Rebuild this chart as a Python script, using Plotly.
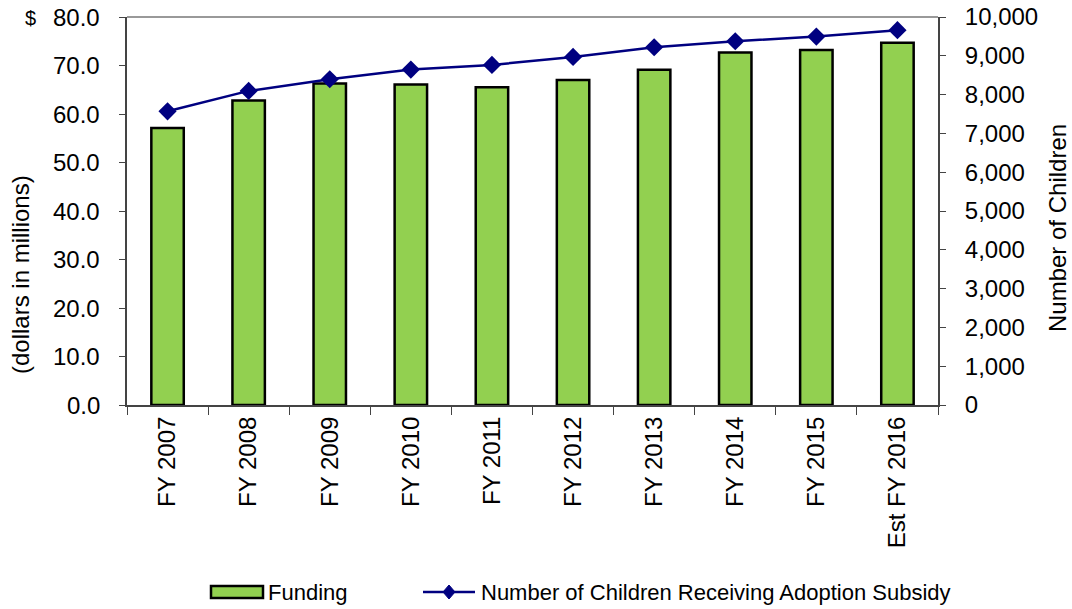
import plotly.graph_objects as go

categories = ["FY 2007", "FY 2008", "FY 2009", "FY 2010", "FY 2011",
              "FY 2012", "FY 2013", "FY 2014", "FY 2015", "Est FY 2016"]
funding = [57.1, 62.8, 66.3, 66.1, 65.5, 67.0, 69.1, 72.7, 73.2, 74.7]
children = [7570, 8095, 8395, 8645, 8765, 8970, 9220, 9375, 9495, 9660]
left_ticks = [0, 10, 20, 30, 40, 50, 60, 70, 80]
right_ticks = [0, 1000, 2000, 3000, 4000, 5000, 6000, 7000, 8000, 9000, 10000]

FONT = "Liberation Sans, Arial, sans-serif"
FS = 24
BAR_COLOR = "#92D050"
LINE_COLOR = "#000080"

L, R, T, B = 127, 134, 17, 204
W, H = 1072, 609
PW, PH = W - L - R, H - T - B


def px(x):
    return (x - L) / PW


def py(y):
    return (H - B - y) / PH


fig = go.Figure()
fig.add_trace(go.Bar(
    x=categories, y=funding, name="Funding",
    marker=dict(color=BAR_COLOR, line=dict(color="black", width=2.5)),
    yaxis="y", showlegend=False,
))
fig.add_trace(go.Scatter(
    x=categories, y=children, name="Number of Children Receiving Adoption Subsidy",
    mode="lines+markers",
    line=dict(color=LINE_COLOR, width=2.5),
    marker=dict(symbol="diamond", size=14, color=LINE_COLOR),
    yaxis="y2", showlegend=False,
))

# custom legend (swatches and labels)
ly = 592
dcx, dhw, dhh = 449, 6, 7
shapes = [
    dict(type="line", xref="paper", yref="paper", x0=0, x1=1, y0=1, y1=1,
         line=dict(color="#999", width=2)),
    dict(type="rect", xref="paper", yref="paper", x0=px(211), x1=px(263),
         y0=py(598), y1=py(586), fillcolor=BAR_COLOR, line=dict(color="black", width=2.5)),
    dict(type="line", xref="paper", yref="paper", x0=px(423), x1=px(475),
         y0=py(ly), y1=py(ly), line=dict(color=LINE_COLOR, width=2.5)),
    dict(type="path", xref="paper", yref="paper",
         path=f"M {px(dcx - dhw)} {py(ly)} L {px(dcx)} {py(ly - dhh)} "
              f"L {px(dcx + dhw)} {py(ly)} L {px(dcx)} {py(ly + dhh)} Z",
         fillcolor=LINE_COLOR, line=dict(color=LINE_COLOR, width=1)),
]

annotations = [
    dict(text="$", xref="paper", yref="paper", x=px(30), y=py(18), xanchor="center",
         yanchor="middle", showarrow=False, font=dict(size=20)),
    dict(text="(dollars in millions)", xref="paper", yref="paper", x=px(20), y=py(275),
         xanchor="center", yanchor="middle", textangle=-90, showarrow=False,
         font=dict(size=24)),
    dict(text="Number of Children", xref="paper", yref="paper", x=px(1057), y=py(228),
         xanchor="center", yanchor="middle", textangle=-90, showarrow=False,
         font=dict(size=24)),
    dict(text="Funding", xref="paper", yref="paper", x=px(266), y=py(ly),
         xanchor="left", yanchor="middle", showarrow=False, font=dict(size=22)),
    dict(text="Number of Children Receiving Adoption Subsidy", xref="paper", yref="paper",
         x=px(479), y=py(ly), xanchor="left", yanchor="middle", showarrow=False,
         font=dict(size=22)),
]
# left axis tick labels, placed on the left axis scale
for v in left_ticks:
    annotations.append(dict(text=f"{v:.1f}", xref="paper", yref="y", x=px(102), y=v,
                            xanchor="right", yanchor="middle", showarrow=False,
                            font=dict(size=FS)))

fig.update_layout(
    width=W, height=H,
    margin=dict(l=L, r=R, t=T, b=B, autoexpand=False),
    paper_bgcolor="white", plot_bgcolor="white",
    font=dict(family=FONT, size=FS, color="black"),
    bargap=0.6,
    showlegend=False,
    xaxis=dict(
        type="category", range=[-0.5, 9.5], tickangle=-90, tickson="boundaries",
        ticks="outside", ticklen=8, tickcolor="#444", tickwidth=1,
        showline=True, linecolor="#444", linewidth=2,
        showgrid=False, zeroline=False, automargin=False,
        ticklabelstandoff=0,
        tickfont=dict(size=FS),
    ),
    yaxis=dict(
        range=[0, 80], tickvals=left_ticks, showticklabels=False,
        ticks="outside", ticklen=6, tickcolor="#444",
        showline=True, linecolor="#444", linewidth=2,
        showgrid=False, zeroline=False, automargin=False,
    ),
    yaxis2=dict(
        range=[0, 10000], tickvals=right_ticks, tickformat=",d",
        overlaying="y", side="right",
        ticks="outside", ticklen=6, tickcolor="#444",
        showline=True, linecolor="#444", linewidth=2,
        showgrid=False, zeroline=False, ticklabelstandoff=14, automargin=False,
        tickfont=dict(size=FS),
    ),
    shapes=shapes,
    annotations=annotations,
)

fig.write_html("out.html", config={"displayModeBar": False},
               post_script="document.body.style.margin='0px';")
